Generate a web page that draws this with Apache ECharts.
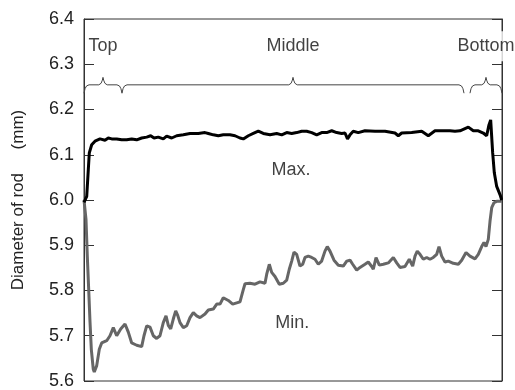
<!DOCTYPE html>
<html>
<head>
<meta charset="utf-8">
<script src="https://cdn.jsdelivr.net/npm/echarts@6/dist/echarts.min.js"></script>
<style>
  html, body { margin: 0; padding: 0; background: #fff; }
  #chart { width: 515px; height: 390px; }
</style>
</head>
<body>
<div id="chart"></div>
<script>
// position along the rod (%), diameter (mm)
var maxProfile = [
  [0, 5.995], [0.65, 6.008], [1.03, 6.067], [1.27, 6.104], [1.84, 6.122], [2.63, 6.13],
  [3.83, 6.135], [5.02, 6.132], [5.81, 6.137], [6.63, 6.135], [7.01, 6.139], [7.82, 6.135],
  [9.02, 6.133], [10.21, 6.133], [11.41, 6.135], [12.61, 6.133], [13.8, 6.137], [15.0, 6.139],
  [15.96, 6.142], [16.75, 6.137], [17.77, 6.139], [18.97, 6.135], [19.78, 6.141], [20.98, 6.137],
  [22.18, 6.142], [23.76, 6.144], [25.36, 6.147], [27.34, 6.147], [28.95, 6.149], [29.74, 6.147],
  [30.93, 6.144], [32.13, 6.142], [33.32, 6.144], [34.93, 6.144], [36.12, 6.142], [37.32, 6.137],
  [38.11, 6.135], [39.31, 6.142], [40.5, 6.147], [41.7, 6.152], [42.89, 6.147], [44.5, 6.144],
  [46.1, 6.147], [47.3, 6.144], [48.49, 6.149], [49.69, 6.147], [50.88, 6.149], [52.08, 6.152],
  [53.28, 6.152], [54.47, 6.149], [55.67, 6.144], [56.86, 6.149], [58.06, 6.149], [59.26, 6.153],
  [60.45, 6.149], [61.65, 6.147], [62.44, 6.148], [63.04, 6.135], [63.64, 6.144], [64.42, 6.152],
  [65.62, 6.149], [67.22, 6.153], [69.62, 6.152], [72.01, 6.152], [74.4, 6.148], [75.19, 6.142],
  [76.0, 6.148], [78.39, 6.149], [80.79, 6.152], [82.37, 6.142], [83.97, 6.153], [85.57, 6.153],
  [87.56, 6.153], [88.75, 6.152], [89.95, 6.153], [91.94, 6.161], [93.13, 6.153], [94.33, 6.153],
  [95.52, 6.148], [96.33, 6.142], [96.88, 6.166], [97.29, 6.177], [97.53, 6.174], [97.77, 6.104],
  [98.16, 6.06], [98.73, 6.03], [99.52, 6.012], [99.93, 6.0]
];

var minProfile = [
  [0, 6.0], [0.48, 5.957], [0.79, 5.876], [1.12, 5.803], [1.44, 5.73], [1.75, 5.67],
  [2.22, 5.626], [2.46, 5.62], [3.04, 5.634], [3.66, 5.67], [4.23, 5.684], [5.43, 5.689],
  [6.22, 5.70], [7.01, 5.718], [7.82, 5.70], [8.78, 5.715], [9.81, 5.726], [10.6, 5.708],
  [11.41, 5.684], [12.61, 5.679], [13.8, 5.676], [14.35, 5.70], [15.0, 5.722], [15.79, 5.719],
  [16.58, 5.70], [17.39, 5.694], [18.18, 5.70], [18.97, 5.729], [19.62, 5.744], [20.17, 5.723],
  [20.74, 5.715], [21.36, 5.737], [21.94, 5.755], [22.42, 5.745], [22.97, 5.729], [23.76, 5.718],
  [24.57, 5.722], [25.36, 5.74], [26.15, 5.751], [26.96, 5.744], [27.75, 5.74], [28.95, 5.748],
  [29.74, 5.757], [30.93, 5.759], [31.75, 5.77], [32.54, 5.77], [33.32, 5.784], [34.52, 5.778],
  [35.57, 5.77], [37.32, 5.775], [38.11, 5.802], [38.52, 5.815], [39.71, 5.816], [40.91, 5.814],
  [42.1, 5.819], [43.3, 5.816], [43.71, 5.836], [44.33, 5.858], [44.9, 5.84], [45.69, 5.831],
  [46.72, 5.814], [47.68, 5.816], [48.49, 5.823], [49.11, 5.847], [49.69, 5.865], [50.24, 5.885],
  [50.88, 5.88], [51.67, 5.854], [52.32, 5.858], [52.87, 5.873], [53.66, 5.876], [54.47, 5.873],
  [55.26, 5.869], [56.05, 5.858], [56.86, 5.865], [57.65, 5.887], [58.2, 5.897], [58.85, 5.887],
  [59.81, 5.867], [60.84, 5.856], [62.03, 5.854], [62.85, 5.865], [63.64, 5.867], [64.28, 5.858],
  [65.24, 5.845], [66.03, 5.851], [67.22, 5.858], [68.01, 5.863], [68.83, 5.853], [69.21, 5.847],
  [69.86, 5.873], [70.65, 5.856], [71.6, 5.858], [72.8, 5.861], [74.0, 5.873], [74.81, 5.861],
  [75.6, 5.851], [76.79, 5.853], [77.82, 5.869], [78.63, 5.854], [79.19, 5.876], [79.73, 5.887],
  [80.38, 5.88], [81.17, 5.869], [81.98, 5.873], [82.77, 5.869], [83.56, 5.873], [84.38, 5.88],
  [84.93, 5.897], [85.57, 5.876], [86.36, 5.863], [87.15, 5.865], [88.35, 5.86], [89.55, 5.858],
  [90.36, 5.867], [91.39, 5.884], [92.34, 5.876], [93.54, 5.87], [94.33, 5.88], [95.14, 5.897],
  [95.69, 5.906], [96.17, 5.897], [96.72, 5.913], [97.13, 5.953], [97.54, 5.983], [98.09, 5.994],
  [98.73, 5.997], [99.93, 5.997]
];

// rod sections marked by braces
var sectionNames = ['Top', 'Middle', 'Bottom'];
var sectionFrom = [0, 9.09, 92.34];
var sectionTo = [9.09, 90.91, 100];

var yTicks = [5.6, 5.7, 5.8, 5.9, 6.0, 6.1, 6.2, 6.3, 6.4];
var seriesLabels = [['Max.', 49.5, 6.067], ['Min.', 49.8, 5.729]];

var braceLevel = 6.2545;

function bracePoints(a, b) {
  var m = (a + b) / 2;
  return [
    [a, 6.236], [a + 0.25, 6.246], [a + 0.6, 6.252], [a + 1.2, braceLevel],
    [m - 1.0, braceLevel], [m - 0.45, 6.258], [m - 0.15, 6.265], [m, 6.271],
    [m + 0.15, 6.265], [m + 0.45, 6.258], [m + 1.0, braceLevel],
    [b - 1.2, braceLevel], [b - 0.6, 6.252], [b - 0.25, 6.246], [b, 6.236]
  ];
}

var font = 'Liberation Sans, Arial, sans-serif';
var chart = echarts.init(document.getElementById('chart'), null, { renderer: 'canvas' });

var braceSeries = sectionNames.map(function (name, i) {
  return {
    name: name,
    type: 'line',
    data: bracePoints(sectionFrom[i], sectionTo[i]),
    showSymbol: false,
    lineStyle: { color: '#444', width: 1 },
    z: 1
  };
});

var option = {
  animation: false,
  grid: {
    left: 84, right: 13, top: 19, bottom: 8,
    show: true, borderColor: '#333', borderWidth: 1
  },
  xAxis: {
    type: 'value', min: 0, max: 100,
    axisLine: { show: false }, axisTick: { show: false },
    axisLabel: { show: false }, splitLine: { show: false }
  },
  yAxis: [{
    type: 'value', min: yTicks[0], max: yTicks[yTicks.length - 1], interval: 0.1,
    name: 'Diameter of rod     (mm)',
    nameLocation: 'middle', nameGap: 57,
    nameTextStyle: { fontFamily: font, fontSize: 17, color: '#222' },
    axisLine: { show: true, lineStyle: { color: '#333' } },
    axisTick: { show: true, inside: true, length: 10, lineStyle: { color: '#333' } },
    axisLabel: {
      fontFamily: font, fontSize: 18, color: '#222', margin: 10,
      formatter: function (v) { return v.toFixed(1); }
    },
    splitLine: { show: false }
  }, {
    type: 'value', min: yTicks[0], max: yTicks[yTicks.length - 1], interval: 0.1,
    position: 'right',
    axisLine: { show: true, lineStyle: { color: '#333' } },
    axisTick: { show: true, inside: true, length: 10, lineStyle: { color: '#333' } },
    axisLabel: { show: false },
    splitLine: { show: false }
  }],
  series: braceSeries.concat([{
    name: 'Min.',
    type: 'line',
    data: minProfile,
    showSymbol: false,
    lineStyle: { color: '#666', width: 3 },
    z: 2
  }, {
    name: 'Max.',
    type: 'line',
    data: maxProfile,
    showSymbol: false,
    lineStyle: { color: '#000', width: 3 },
    z: 3
  }, {
    name: 'sections',
    type: 'scatter',
    symbolSize: 0,
    data: sectionNames.map(function (n, i) {
      return { name: n, value: [(sectionFrom[i] + sectionTo[i]) / 2, 6.34] };
    }),
    label: {
      show: true, position: 'inside', formatter: '{b}',
      fontFamily: font, fontSize: 18, color: '#111',
      backgroundColor: '#fff', padding: [6, 2]
    },
    z: 5
  }, {
    name: 'names',
    type: 'scatter',
    symbolSize: 0,
    data: seriesLabels.map(function (s) {
      return { name: s[0], value: [s[1], s[2]] };
    }),
    label: {
      show: true, position: 'inside', formatter: '{b}',
      fontFamily: font, fontSize: 18, color: '#111'
    },
    z: 5
  }])
};

chart.setOption(option);
</script>
</body>
</html>
